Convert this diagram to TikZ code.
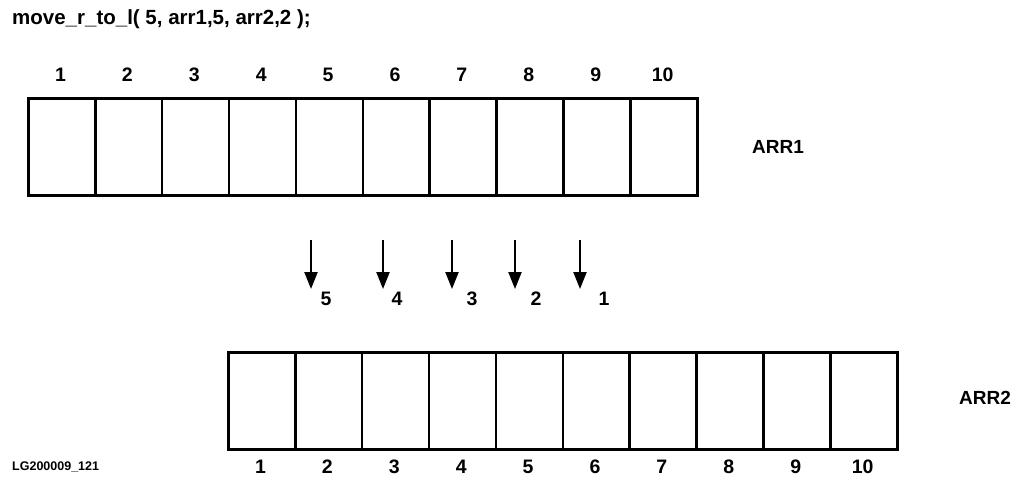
\documentclass[tikz,border=0pt]{standalone}
\usepackage{fontspec}
\setmainfont{Liberation Sans}
\usetikzlibrary{arrows.meta}
\begin{document}
\begin{tikzpicture}[x=1pt,y=-1pt,
  cell/.style={draw,line width=2.6pt,minimum width=66.9pt,minimum height=97pt,inner sep=0pt,anchor=north west},
  idx/.style={font=\fontsize{19.5}{19.5}\selectfont\bfseries,inner sep=0pt},
  lbl/.style={font=\fontsize{19}{19}\selectfont\bfseries,inner sep=0pt},
  mv/.style={line width=2.2pt,-{Triangle[width=13pt,length=17pt]}}]
\useasboundingbox (0,0) rectangle (1012,487);
\node[anchor=west,inner sep=0pt,font=\fontsize{20.5}{20.5}\selectfont\bfseries] (title) at (12,19) {move\_r\_to\_l( 5, arr1,5, arr2,2 );};
% ARR1
\foreach \i in {1,...,10}{
  \node[cell] (a\i) at ({27+(\i-1)*66.9},97) {};
  \node[idx] (ai\i) at ({60.5+(\i-1)*66.9},75) {\i};
}
\node[lbl] (arr1) at (778,147) {ARR1};
% ARR2
\foreach \i in {1,...,10}{
  \node[cell] (b\i) at ({227+(\i-1)*66.9},351) {};
  \node[idx] (bi\i) at ({260.5+(\i-1)*66.9},467) {\i};
}
\node[lbl] (arr2) at (985,398) {ARR2};
\node[anchor=west,inner sep=0pt,font=\fontsize{12.5}{12.5}\selectfont\bfseries] (lg) at (12,467) {LG200009\_121};
% arrows
\foreach \x/\n/\lx [count=\k] in {311/5/326,383/4/397,452/3/472,515/2/536,580/1/604}{
  \coordinate (s\k) at (\x,240);
  \coordinate (e\k) at (\x,289);
  \draw[mv] (s\k) -- (e\k);
  \node[idx] (n\k) at (\lx,299) {\n};
}
\end{tikzpicture}
\end{document}
